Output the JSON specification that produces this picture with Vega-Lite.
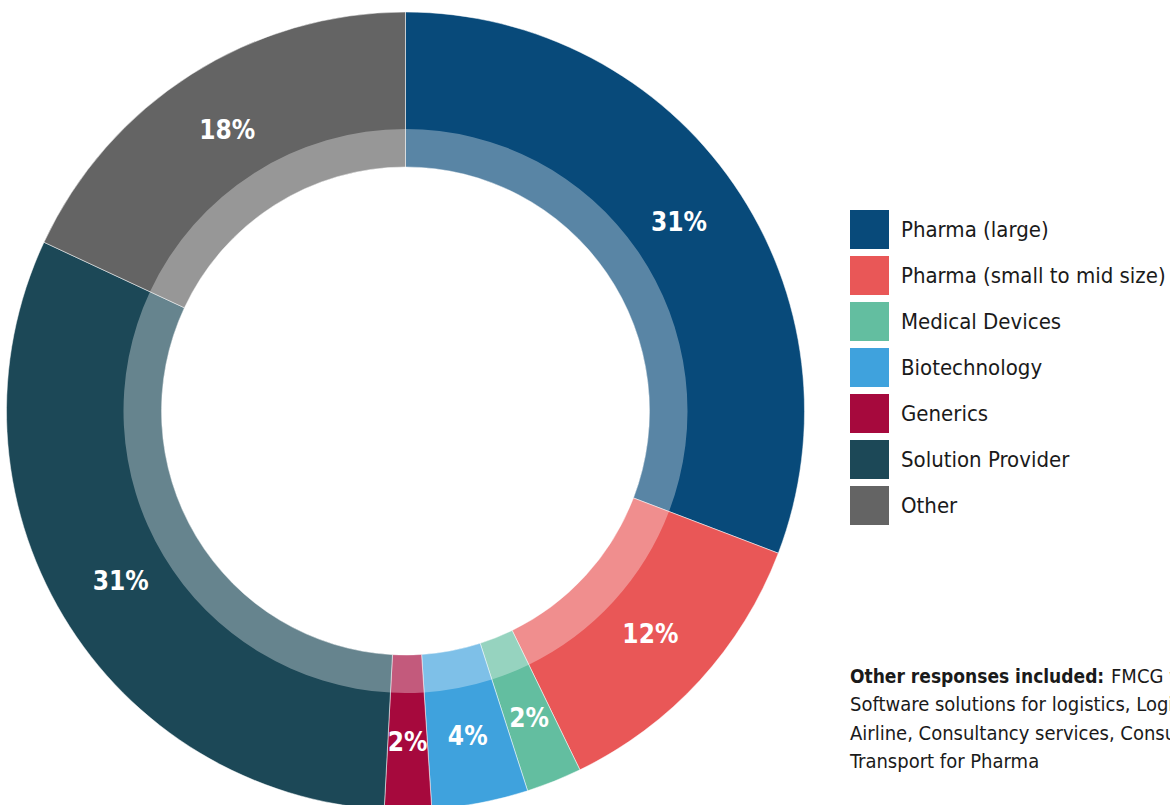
{
  "$schema": "https://vega.github.io/schema/vega-lite/v6.json",
  "width": 1170,
  "height": 805,
  "autosize": {"type": "none"},
  "padding": 0,
  "background": "white",
  "config": {"view": {"stroke": null}},
  "datasets": {
    "shares": [
      {"rank": 1, "sector": "Pharma (large)", "share": 30.8, "label": "31%"},
      {"rank": 2, "sector": "Pharma (small to mid size)", "share": 12.0, "label": "12%"},
      {"rank": 3, "sector": "Medical Devices", "share": 2.25, "label": "2%"},
      {"rank": 4, "sector": "Biotechnology", "share": 3.9, "label": "4%"},
      {"rank": 5, "sector": "Generics", "share": 1.9, "label": "2%"},
      {"rank": 6, "sector": "Solution Provider", "share": 31.1, "label": "31%"},
      {"rank": 7, "sector": "Other", "share": 18.05, "label": "18%"}
    ],
    "note": [
      {"line": 1, "bold": "Other responses included:", "text": "FMCG with healthcare division, Contract manufacturing,"},
      {"line": 2, "bold": "", "text": "Software solutions for logistics, Logistics service provider,"},
      {"line": 3, "bold": "", "text": "Airline, Consultancy services, Consumer health,"},
      {"line": 4, "bold": "", "text": "Transport for Pharma"}
    ]
  },
  "layer": [
    {
      "data": {"name": "shares"},
      "mark": {"type": "arc", "radius": 399, "radius2": 244, "stroke": "white", "strokeWidth": 0.5},
      "encoding": {
        "x": {"value": 405.5},
        "y": {"value": 411},
        "theta": {"field": "share", "type": "quantitative", "stack": true},
        "order": {"field": "rank", "type": "quantitative"},
        "color": {
          "field": "sector",
          "type": "nominal",
          "sort": ["Pharma (large)", "Pharma (small to mid size)", "Medical Devices", "Biotechnology", "Generics", "Solution Provider", "Other"],
          "scale": {
            "domain": ["Pharma (large)", "Pharma (small to mid size)", "Medical Devices", "Biotechnology", "Generics", "Solution Provider", "Other"],
            "range": ["#084a7a", "#e95757", "#63bea0", "#3fa2dd", "#a6093d", "#1c4857", "#646464"]
          },
          "legend": {
            "title": null,
            "orient": "none",
            "legendX": 850,
            "legendY": 210,
            "padding": 0,
            "symbolType": "square",
            "symbolSize": 1521,
            "symbolStrokeWidth": 0,
            "symbolOpacity": 1,
            "labelFont": "'DejaVu Sans Condensed', 'Liberation Sans Narrow', Roboto, sans-serif",
            "labelFontSize": 22,
            "labelColor": "#1a1a1a",
            "labelOffset": 12,
            "labelLimit": 500,
            "rowPadding": 7
          }
        }
      }
    },
    {
      "data": {"name": "shares"},
      "mark": {"type": "arc", "radius": 282, "radius2": 244, "fill": "white", "fillOpacity": 0.33},
      "encoding": {
        "x": {"value": 405.5},
        "y": {"value": 411},
        "theta": {"field": "share", "type": "quantitative", "stack": true},
        "order": {"field": "rank", "type": "quantitative"}
      }
    },
    {
      "data": {"name": "shares"},
      "mark": {"type": "text", "radius": 332, "font": "'DejaVu Sans Condensed', 'Liberation Sans Narrow', Roboto, sans-serif", "fontWeight": "bold", "fontSize": 26, "fill": "white", "align": "center", "baseline": "middle"},
      "encoding": {
        "x": {"value": 405.5},
        "y": {"value": 411},
        "theta": {"field": "share", "type": "quantitative", "stack": true},
        "order": {"field": "rank", "type": "quantitative"},
        "text": {"field": "label", "type": "nominal"}
      }
    },
    {
      "data": {"name": "note"},
      "transform": [{"filter": "datum.line == 1"}],
      "mark": {"type": "text", "font": "'DejaVu Sans Condensed', 'Liberation Sans Narrow', Roboto, sans-serif", "fontWeight": "bold", "fontSize": 19, "fill": "#1a1a1a", "align": "left", "baseline": "alphabetic"},
      "encoding": {
        "x": {"value": 850},
        "y": {"field": "line", "type": "ordinal", "axis": null, "scale": {"type": "point", "range": [683, 768], "padding": 0}},
        "text": {"field": "bold", "type": "nominal"}
      }
    },
    {
      "data": {"name": "note"},
      "transform": [{"filter": "datum.line == 1"}],
      "mark": {"type": "text", "font": "'DejaVu Sans Condensed', 'Liberation Sans Narrow', Roboto, sans-serif", "fontSize": 20, "fill": "#1a1a1a", "align": "left", "baseline": "alphabetic", "dx": 261},
      "encoding": {
        "x": {"value": 850},
        "y": {"field": "line", "type": "ordinal", "axis": null},
        "text": {"field": "text", "type": "nominal"}
      }
    },
    {
      "data": {"name": "note"},
      "transform": [{"filter": "datum.line > 1"}],
      "mark": {"type": "text", "font": "'DejaVu Sans Condensed', 'Liberation Sans Narrow', Roboto, sans-serif", "fontSize": 20, "fill": "#1a1a1a", "align": "left", "baseline": "alphabetic"},
      "encoding": {
        "x": {"value": 850},
        "y": {"field": "line", "type": "ordinal", "axis": null},
        "text": {"field": "text", "type": "nominal"}
      }
    }
  ]
}
